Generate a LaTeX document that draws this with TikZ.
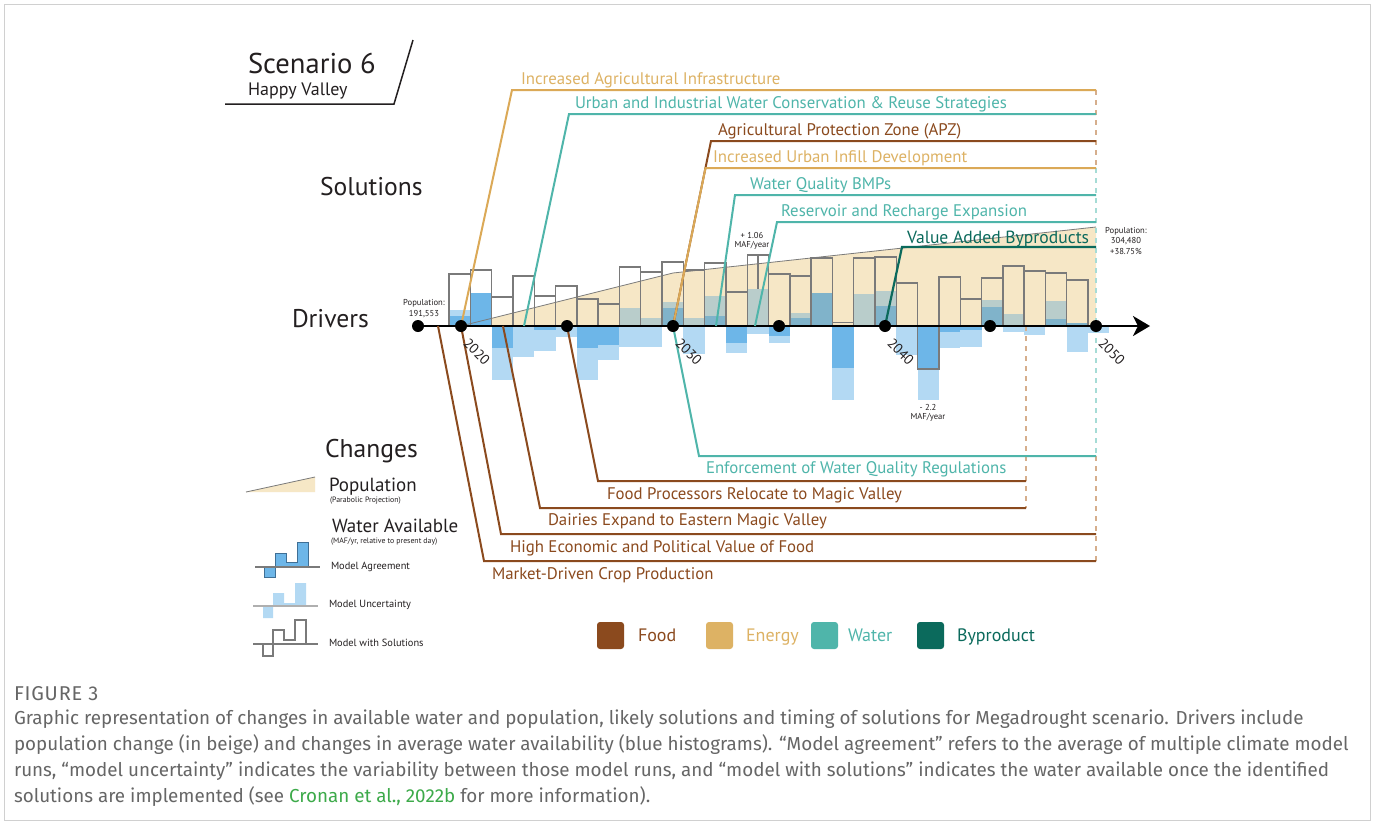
\documentclass[tikz,border=0pt]{standalone}
\usepackage{fontspec}
\setmainfont{PT Sans}
\newfontfamily\capfont{Fira Sans}
\usetikzlibrary{arrows.meta}
\pgfdeclarelayer{back}
\pgfdeclarelayer{mid}
\pgfsetlayers{back,mid,main}
\definecolor{foodc}{HTML}{8B4A1E}
\definecolor{energyc}{HTML}{DBA957}
\definecolor{energyt}{HTML}{DDB264}
\definecolor{waterc}{HTML}{4FB5AA}
\definecolor{byc}{HTML}{0B6A5C}
\definecolor{beige}{HTML}{F6E7C6}
\definecolor{lightb}{HTML}{B3D9F3}
\definecolor{darkb}{HTML}{6DB6E8}
\definecolor{lightbb}{HTML}{B9CDCB}
\definecolor{darkbb}{HTML}{80B3CA}
\definecolor{barc}{HTML}{7A7A7A}
\definecolor{dashtan}{HTML}{D6AE8C}
\definecolor{dashteal}{HTML}{A6DCD6}
\definecolor{captc}{HTML}{666666}
\definecolor{linkc}{HTML}{3DAA4A}
\definecolor{framec}{HTML}{D0D0D0}
\definecolor{txtk}{HTML}{231F20}
\definecolor{agreec}{HTML}{3F6F95}
\newcommand\myfs[1]{\fontsize{#1}{#1}\selectfont}
\begin{document}
\begin{tikzpicture}[x=0.5pt,y=-0.5pt,
  every node/.style={inner sep=0pt,outer sep=0pt},
  lbl/.style={anchor=base west,font=\myfs{8.4}},
  hdr/.style={anchor=base west,font=\myfs{12.8},text=txtk},
  smalltxt/.style={anchor=base,font=\myfs{4.3},text=txtk},
  legtxt/.style={anchor=base west,font=\myfs{5.2},text=txtk},
  dot/.style={circle,fill=black,minimum size=6pt},
  yr/.style={rotate=-45,anchor=west,font=\myfs{7},text=txtk},
  foodline/.style={draw=foodc,line width=1pt},
  energyline/.style={draw=energyc,line width=1pt},
  waterline/.style={draw=waterc,line width=1pt},
  byline/.style={draw=byc,line width=1.1pt},
  dashA/.style={draw=dashtan,dash pattern=on 2.5pt off 2.5pt,line width=0.8pt},
  dashB/.style={draw=dashteal,dash pattern=on 2.5pt off 2.5pt,line width=0.8pt},
  barline/.style={draw=barc,line width=0.7pt},
  swatch/.style={rounded corners=1.5pt,minimum size=13.5pt,anchor=north west},
  captxt/.style={anchor=base west,font=\capfont\myfs{9.4},text=captc}
]
\useasboundingbox (0,0) rectangle (1375,825);
\begin{pgfonlayer}{back}
\fill[white] (0,0) rectangle (1375,825);
\draw[framec,line width=0.5pt] (4.5,4.5) rectangle (1370.5,820.5);
\end{pgfonlayer}

% ---------- title ----------
\node[anchor=base west,font=\myfs{14.3},text=txtk] (title) at (248,73) {Scenario 6};
\node[anchor=base west,font=\myfs{9},text=txtk] (subtitle) at (248,95) {Happy Valley};
\coordinate (tl1) at (225,104);
\coordinate (tl2) at (394,104);
\coordinate (tl3) at (413,40);
\draw[txtk,line width=0.75pt] (tl1) -- (tl2) -- (tl3);

% ---------- section headers ----------
\node[hdr] (hsol) at (320,195) {Solutions};
\node[hdr] (hdrv) at (292,327) {Drivers};
\node[hdr] (hchg) at (325,457) {Changes};

% ---------- population area and water bars ----------
\begin{pgfonlayer}{back}
\fill[beige] (461,326) -- (673,273) -- (1096,227) -- (1096,326) -- cycle;
\foreach \k/\a/\b in {0/310/316,2/348/380,3/326/357,4/330/351,5/326/337,6/348/380,7/345/360,
  8/326/347,9/326/347,11/326/354,13/343/353,14/326/334,15/336/343,18/368/400,
  21/326/355,22/369/400,23/332/348,24/330/347,26/326/332,27/326/335,29/326/352,30/326/333}
  \fill[lightb] ({449+21.3*\k},\a) rectangle ({470.3+21.3*\k},\b);
\foreach \k/\a/\b in {0/316/326,1/293/326,2/326/348,4/326/330,6/326/348,7/326/345,
  13/326/343,15/326/336,18/326/368,22/326/369,23/326/332,24/326/330}
  \fill[darkb] ({449+21.3*\k},\a) rectangle ({470.3+21.3*\k},\b);
\foreach \k/\a/\b in {8/308/326,9/318/326,10/302/308,11/318/326,12/296/316,14/289/326,
  16/313/318,19/294/326,20/291/306,25/300/307,26/314/326,28/301/319}
  \fill[lightbb] ({449+21.3*\k},\a) rectangle ({470.3+21.3*\k},\b);
\foreach \k/\a/\b in {10/308/326,12/316/326,16/318/326,17/293/326,20/306/326,25/307/326,
  28/319/326,29/323/326}
  \fill[darkbb] ({449+21.3*\k},\a) rectangle ({470.3+21.3*\k},\b);
\foreach \k/\t in {0/274,1/270,2/297,3/276,4/296,5/286,6/299,7/304,8/267,9/272,10/262,11/270,
  12/263,13/292,14/255,15/274,16/276,17/258,18/322.5,19/258,20/257,21/283,22/369,23/277,
  24/299,25/278,26/266,27/271,28/273,29/280}
  \draw[barline] ({449+21.3*\k},326) rectangle ({470.3+21.3*\k},\t);
\draw[barline] (758,255) -- (758,289);
\draw[barc,line width=0.4pt] (461,326) -- (673,273) -- (1096,227);
\end{pgfonlayer}

% ---------- axis dots ----------
\node[dot] (d2015) at (418,326) {};
\node[dot] (d2020) at (461,326) {};
\node[dot] (d2025) at (567,326) {};
\node[dot] (d2030) at (673,326) {};
\node[dot] (d2035) at (779,326) {};
\node[dot] (d2040) at (885,326) {};
\node[dot] (d2045) at (990,326) {};
\node[dot] (d2050) at (1096,326) {};
\coordinate (axend) at (1150,326);

\node[yr] (y2020) at (466,341) {2020};
\node[yr] (y2030) at (678,341) {2030};
\node[yr] (y2040) at (890,341) {2040};
\node[yr] (y2050) at (1101,341) {2050};

% ---------- connector coordinates ----------
\coordinate (g1a) at (1096,90);
\coordinate (g1b) at (1096,168);
\coordinate (g1c) at (1096,456);
\coordinate (g1d) at (1096,561);
\coordinate (g2a) at (1026,326);
\coordinate (g2b) at (1026,508);
\coordinate (s2b) at (524,326);
\coordinate (s5b) at (716,326);
\coordinate (s6b) at (755,326);
\coordinate (s1c) at (512,90);   \coordinate (s1e) at (1096,90);
\coordinate (s2c) at (569,114);  \coordinate (s2e) at (1096,114);
\coordinate (s3c) at (711,141);  \coordinate (s3e) at (1096,141);
\coordinate (s4c) at (705.5,168);\coordinate (s4e) at (1096,168);
\coordinate (s5c) at (735,195);  \coordinate (s5e) at (1096,195);
\coordinate (s6c) at (777,222);  \coordinate (s6e) at (1096,222);
\coordinate (s7c) at (902,247);  \coordinate (s7e) at (1096,247);
\coordinate (c5b) at (438,326);
\coordinate (c3b) at (503,326);
\coordinate (c1c) at (699,456);  \coordinate (c1e) at (1096,456);
\coordinate (c2c) at (598,481);  \coordinate (c2e) at (1026,481);
\coordinate (c3c) at (540,508);  \coordinate (c3e) at (1026,508);
\coordinate (c4c) at (501,534);  \coordinate (c4e) at (1096,534);
\coordinate (c5c) at (484,561);  \coordinate (c5e) at (1096,561);

\begin{pgfonlayer}{mid}
\draw[dashA] (g1a) -- (g1b);
\draw[dashB] (g1b) -- (g1c);
\draw[dashA] (g1c) -- (g1d);
\draw[dashA] (g2a) -- (g2b);
\draw[black,line width=1.25pt,-{Stealth[length=8.5pt,width=10pt,inset=2.5pt]}] (d2015.center) -- (axend);
\draw[energyline] (d2020.center) -- (s1c) -- (s1e);
\draw[waterline] (s2b) -- (s2c) -- (s2e);
\draw[foodline] (d2030.center) -- (s3c) -- (s3e);
\draw[energyline] (d2030.center) -- (s4c) -- (s4e);
\draw[waterline] (s5b) -- (s5c) -- (s5e);
\draw[waterline] (s6b) -- (s6c) -- (s6e);
\draw[byline] (d2040.center) -- (s7c) -- (s7e);
\draw[waterline] (d2030.center) -- (c1c) -- (c1e);
\draw[foodline] (d2025.center) -- (c2c) -- (c2e);
\draw[foodline] (c3b) -- (c3c) -- (c3e);
\draw[foodline] (d2020.center) -- (c4c) -- (c4e);
\draw[foodline] (c5b) -- (c5c) -- (c5e);
\end{pgfonlayer}

\node[lbl,text=energyt] (t1) at (521,84) {Increased Agricultural Infrastructure};
\node[lbl,text=waterc] (t2) at (575,108) {Urban and Industrial Water Conservation \& Reuse Strategies};
\node[lbl,text=foodc] (t3) at (718,135) {Agricultural Protection Zone (APZ)};
\node[lbl,text=energyt] (t4) at (713,162) {Increased Urban Infill Development};
\node[lbl,text=waterc] (t5) at (750,189) {Water Quality BMPs};
\node[lbl,text=waterc] (t6) at (781,216) {Reservoir and Recharge Expansion};
\node[lbl,text=byc,font=\myfs{8.8}] (t7) at (907,243) {Value Added Byproducts};

\node[lbl,text=waterc] (b1) at (706,473) {Enforcement of Water Quality Regulations};
\node[lbl,text=foodc] (b2) at (607,499) {Food Processors Relocate to Magic Valley};
\node[lbl,text=foodc] (b3) at (548,525) {Dairies Expand to Eastern Magic Valley};
\node[lbl,text=foodc] (b4) at (510,552) {High Economic and Political Value of Food};
\node[lbl,text=foodc] (b5) at (492,579) {Market-Driven Crop Production};

% ---------- small annotations ----------
\node[smalltxt] (p1a) at (424,305) {Population:};
\node[smalltxt] (p1b) at (424,316.5) {191,553};
\node[smalltxt] (p2a) at (1126,233) {Population:};
\node[smalltxt] (p2b) at (1126,243.5) {304,480};
\node[smalltxt] (p2c) at (1126,254) {+38.75\%};
\node[smalltxt] (m1a) at (752,238.5) {+ 1.06};
\node[smalltxt] (m1b) at (752,247.5) {MAF/year};
\node[smalltxt] (m2a) at (928,410) {- 2.2};
\node[smalltxt] (m2b) at (928,419.5) {MAF/year};

% ---------- Changes legend ----------
\fill[beige] (246,492) -- (315,477) -- (315,492) -- cycle;
\draw[barc,line width=0.4pt] (246,492) -- (315,477);
\node[anchor=base west,font=\myfs{9.5},text=txtk] (lpop) at (329,491) {Population};
\node[anchor=base west,font=\myfs{3.9},text=txtk] (lpop2) at (330,502.5) {(Parabolic Projection)};
\node[anchor=base west,font=\myfs{9.5},text=txtk] (lwat) at (332,532) {Water Available};
\node[anchor=base west,font=\myfs{3.9},text=txtk] (lwat2) at (331,543) {(MAF/yr, relative to present day)};

\filldraw[fill=darkb,draw=agreec,line width=0.5pt] (264,567) -- (264,577) -- (275,577) -- (275,553) -- (286,553) -- (286,562) -- (297,562) -- (297,542) -- (308,542) -- (308,567) -- cycle;
\draw[barc,line width=0.6pt] (255,567) -- (320,567);
\node[legtxt] (lag) at (331,569) {Model Agreement};

\fill[lightb] (263,606) -- (263,618) -- (273,618) -- (273,593) -- (284,593) -- (284,603) -- (295,603) -- (295,583) -- (306,583) -- (306,606) -- cycle;
\draw[barc!60,line width=0.6pt] (253,606) -- (318,606);
\node[legtxt] (lun) at (329,607) {Model Uncertainty};

\draw[barc,line width=0.6pt] (253,644) -- (318,644);
\draw[barc,line width=0.6pt] (263,644) -- (263,656) -- (273,656) -- (273,630) -- (284,630) -- (284,640) -- (295,640) -- (295,620) -- (306,620) -- (306,644);
\node[legtxt] (lws) at (329,646) {Model with Solutions};

% ---------- category legend ----------
\node[swatch,fill=foodc] (sq1) at (597,622) {};
\node[anchor=base west,font=\myfs{9},text=foodc] (lq1) at (638,641) {Food};
\node[swatch,fill=energyt] (sq2) at (706,622) {};
\node[anchor=base west,font=\myfs{9},text=energyt] (lq2) at (746,641) {Energy};
\node[swatch,fill=waterc] (sq3) at (811,622) {};
\node[anchor=base west,font=\myfs{9},text=waterc] (lq3) at (848,641) {Water};
\node[swatch,fill=byc] (sq4) at (917,622) {};
\node[anchor=base west,font=\myfs{9},text=byc] (lq4) at (957,641) {Byproduct};

% ---------- caption ----------
\node[captxt,font=\capfont\myfs{10}\addfontfeature{LetterSpace=4}] (fig) at (14,700) {FIGURE 3};
\node[captxt] (cap1) at (14,724) {Graphic representation of changes in available water and population, likely solutions and timing of solutions for Megadrought scenario. Drivers include};
\node[captxt] (cap2) at (14,750) {population change (in beige) and changes in average water availability (blue histograms). “Model agreement” refers to the average of multiple climate model};
\node[captxt] (cap3) at (14,776) {runs, “model uncertainty” indicates the variability between those model runs, and “model with solutions” indicates the water available once the identified};
\node[captxt] (cap4) at (14,802) {solutions are implemented (see \textcolor{linkc}{Cronan et al., 2022b} for more information).};
\end{tikzpicture}
\end{document}
